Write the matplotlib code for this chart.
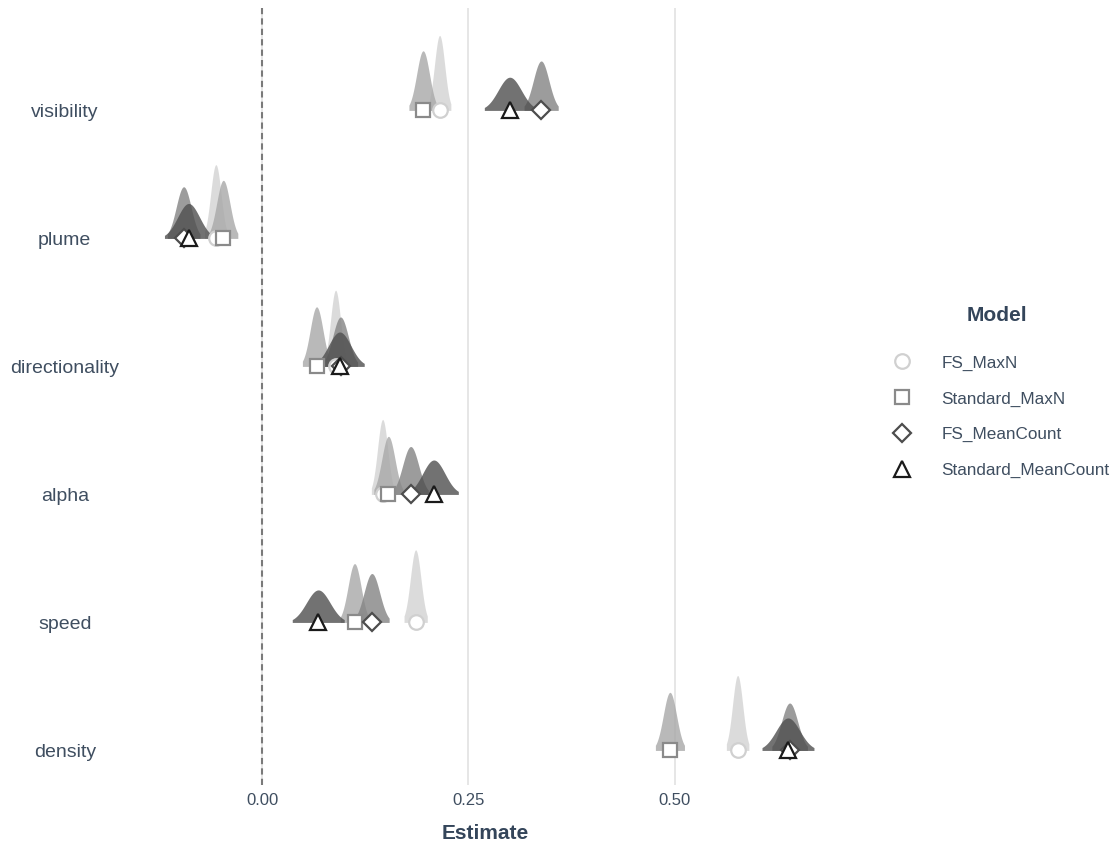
import numpy as np
import matplotlib
matplotlib.use("Agg")
import matplotlib.pyplot as plt
from matplotlib.lines import Line2D

plt.rcParams["font.family"] = ["Liberation Sans", "DejaVu Sans"]

# -------------------------
# Data: posterior estimates per covariate and model
# -------------------------
variables = ["visibility", "plume", "directionality", "alpha", "speed", "density"]
models = ["FS_MaxN", "Standard_MaxN", "FS_MeanCount", "Standard_MeanCount"]

est_fs_maxn = [0.215, -0.056, 0.089, 0.146, 0.186, 0.576]
est_std_maxn = [0.195, -0.047, 0.066, 0.153, 0.112, 0.494]
est_fs_meancount = [0.338, -0.095, 0.095, 0.180, 0.133, 0.639]
est_std_meancount = [0.300, -0.089, 0.094, 0.208, 0.068, 0.637]

sd_fs_maxn = [0.0062, 0.0063, 0.0061, 0.0062, 0.0064, 0.0062]
sd_std_maxn = [0.0078, 0.0080, 0.0078, 0.0080, 0.0079, 0.0080]
sd_fs_meancount = [0.0094, 0.0090, 0.0094, 0.0097, 0.0095, 0.0098]
sd_std_meancount = [0.0140, 0.0133, 0.0135, 0.0135, 0.0143, 0.0143]

estimates = [est_fs_maxn, est_std_maxn, est_fs_meancount, est_std_meancount]
sds = [sd_fs_maxn, sd_std_maxn, sd_fs_meancount, sd_std_meancount]

# -------------------------
# Style
# -------------------------
slab_colors = ["#d3d3d3", "#a8a8a8", "#848484", "#4f4f4f"]
edge_colors = ["#d0d0d0", "#8a8a8a", "#4d4d4d", "#1a1a1a"]
markers = ["o", "s", "D", "^"]
marker_sizes = [10.5, 10, 9, 12]
text_col = "#3f4e60"
SLAB_SCALE = 0.0091
TRIM = 2.2  # slab drawn out to +/- TRIM sd

W, H = 1117, 843
fig = plt.figure(figsize=(W / 100, H / 100), dpi=100)
left_px, right_px, top_px, bottom_px = 130, 840, 8, 785
ax = fig.add_axes([left_px / W, 1 - bottom_px / H,
                   (right_px - left_px) / W, (bottom_px - top_px) / H])

ypos = {v: len(variables) - 1 - i for i, v in enumerate(variables)}

# half-eye slabs
for m in range(len(models)):
    for i, v in enumerate(variables):
        mu, sd = estimates[m][i], sds[m][i]
        xs = np.linspace(mu - TRIM * sd, mu + TRIM * sd, 200)
        dens = np.exp(-0.5 * ((xs - mu) / sd) ** 2) / (sd * np.sqrt(2 * np.pi))
        y0 = ypos[v]
        ax.fill_between(xs, y0, y0 + dens * SLAB_SCALE, color=slab_colors[m],
                        alpha=0.8, linewidth=0, zorder=2 + m * 0.1)

# point estimates
for m in range(len(models)):
    ys = [ypos[v] for v in variables]
    ax.plot(estimates[m], ys, linestyle="none", marker=markers[m],
            markersize=marker_sizes[m], markerfacecolor="white",
            markeredgecolor=edge_colors[m], markeredgewidth=1.6, zorder=4 + m * 0.1)

ax.axvline(0, color="#7a7a7a", linestyle=(0, (3, 2)), linewidth=1.5, zorder=1)

ax.set_xlim(-0.16, 0.70)
ax.set_ylim(-0.27, 5.8)
ax.set_xticks([0.0, 0.25, 0.5])
ax.set_xticklabels(["0.00", "0.25", "0.50"])
ax.set_yticks([ypos[v] for v in variables])
ax.set_yticklabels(variables)
for lab in ax.get_yticklabels():
    lab.set_horizontalalignment("center")

ax.grid(axis="x", color="#e6e6e6", linewidth=1.4, zorder=0)
ax.set_axisbelow(True)
for s in ax.spines.values():
    s.set_visible(False)
ax.tick_params(axis="y", length=0, pad=47, labelsize=14, labelcolor=text_col)
ax.tick_params(axis="x", length=0, pad=6, labelsize=12, labelcolor=text_col)
ax.set_xlabel("Estimate", fontsize=15, fontweight="bold", color="#34455a", labelpad=11)

# legend
handles = [Line2D([], [], linestyle="none", marker=markers[m],
                  markersize=marker_sizes[m], markerfacecolor="white",
                  markeredgecolor=edge_colors[m], markeredgewidth=1.6)
           for m in range(len(models))]
leg = fig.legend(handles, models, title="Model", loc="upper left",
                 bbox_to_anchor=(878 / W, 1 - 299 / H), frameon=False,
                 fontsize=12.3, labelcolor=text_col, handletextpad=1.3,
                 labelspacing=1.22, borderaxespad=0)
leg.get_title().set_fontsize(15)
leg.get_title().set_fontweight("bold")
leg.get_title().set_color("#34455a")
leg._legend_box.sep = 22

fig.savefig("out.png", dpi=100)
